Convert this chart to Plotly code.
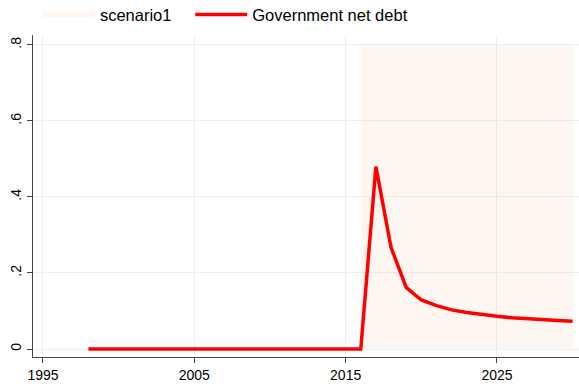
import plotly.graph_objs as go

years = list(range(1998, 2031))
net_debt = [0.0] * 19 + [
    0.480, 0.267, 0.162, 0.129, 0.114, 0.103, 0.096,
    0.090, 0.086, 0.082, 0.079, 0.077, 0.075, 0.073,
]
scenario_years = [2016, 2030]
scenario_top = [0.8, 0.8]

x_ticks = [1995, 2005, 2015, 2025]
y_ticks = [0, 0.2, 0.4, 0.6, 0.8]
y_labels = ["0", ".2", ".4", ".6", ".8"]

fig = go.Figure()

# shaded scenario window (semi-transparent so the grid shows through)
fig.add_trace(
    go.Scatter(
        x=scenario_years,
        y=scenario_top,
        fill='tozeroy',
        fillcolor='rgba(250,210,180,0.2)',
        mode='none',
        name='scenario1\u00a0\u00a0\u00a0',  # pad to widen gap between legend entries
        hoverinfo='skip',
    )
)

fig.add_trace(
    go.Scatter(
        x=years,
        y=net_debt,
        mode='lines',
        line=dict(color='#ff0000', width=3.5),
        name='Government net debt',
    )
)

axis_common = dict(
    showline=True,
    linecolor='#444444',
    linewidth=1,
    ticks='outside',
    ticklen=5,
    tickcolor='#444444',
    showgrid=True,
    gridcolor='#e8f0f1',
    gridwidth=1,
    zeroline=False,
    automargin=False,
    tickfont=dict(size=14, color='black'),
)

fig.update_xaxes(
    range=[1994.34, 2030.42],
    tickvals=x_ticks,
    **axis_common,
)
fig.update_yaxes(
    range=[-0.021, 0.826],
    tickvals=y_ticks,
    ticktext=y_labels,
    tickangle=-90,
    **axis_common,
)

fig.update_layout(
    width=579,
    height=386,
    plot_bgcolor='white',
    paper_bgcolor='white',
    font=dict(family='Liberation Sans, Arial, Helvetica, sans-serif', color='black'),
    margin=dict(l=33, r=0, t=35, b=29),
    showlegend=True,
    legend=dict(
        orientation='h',
        xref='container',
        yref='container',
        x=0.0655,
        xanchor='left',
        y=0.962,
        yanchor='middle',
        font=dict(size=16.5),
        itemwidth=52,
        bgcolor='rgba(0,0,0,0)',
    ),
)

fig.write_html(
    "out.html",
    config={'displayModeBar': False},
    post_script="document.body.style.margin='0';",
)
